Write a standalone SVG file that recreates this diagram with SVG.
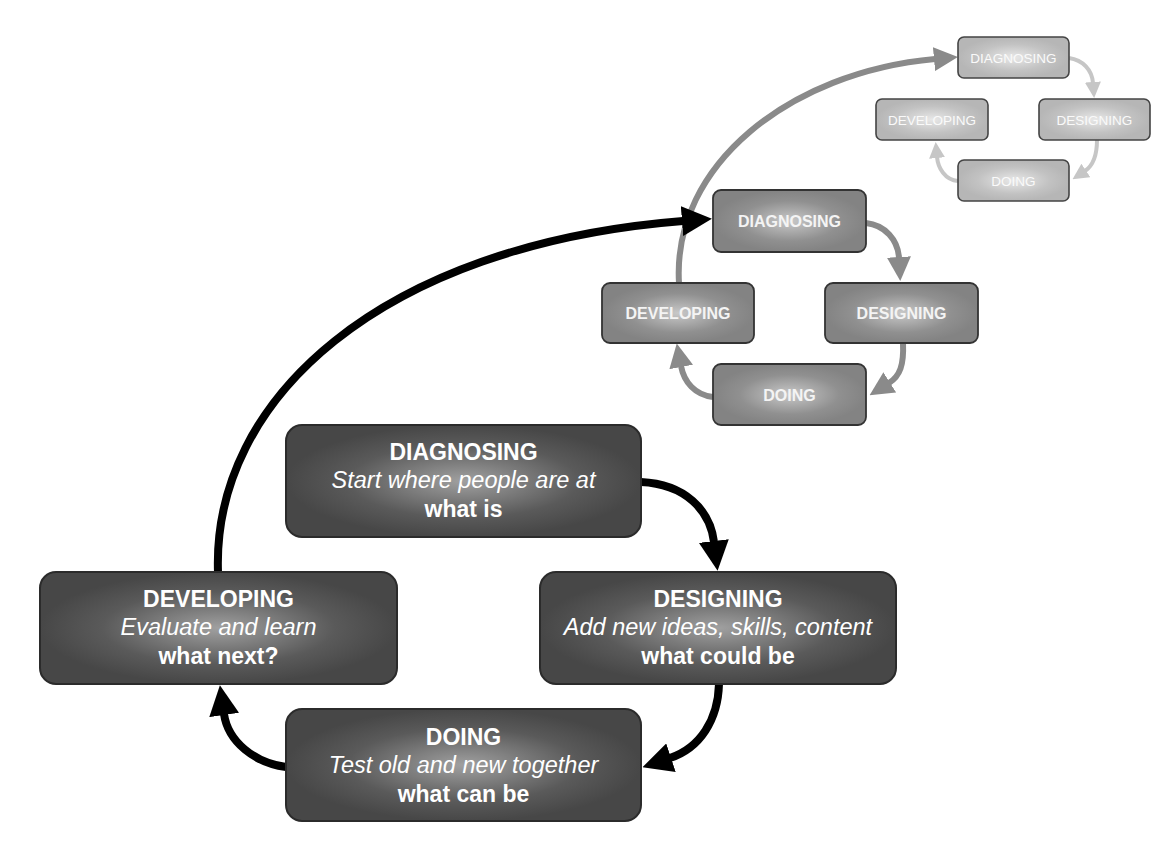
<svg xmlns="http://www.w3.org/2000/svg" width="1174" height="848" viewBox="0 0 1174 848">
  <style>
    .big { stroke: #2b2b2b; stroke-width: 2; fill: url(#gBig); }
    .mid { stroke: #333; stroke-width: 1.8; fill: url(#gMid); }
    .far { stroke: #444; stroke-width: 1.6; fill: url(#gFar); }
    text { font-family: "Liberation Sans", Arial, sans-serif; fill: #fff; text-anchor: middle; }
    .t { font-size: 23px; font-weight: bold; }
    .i { font-size: 23.5px; font-style: italic; }
    .mt { font-size: 16px; font-weight: bold; fill: #f4f4f4; }
    .ft { font-size: 13.5px; fill: #fafafa; }
    .c1 { fill: none; stroke: #000; stroke-width: 8; marker-end: url(#hBlack); }
    .c2 { fill: none; stroke: #8a8a8a; stroke-width: 6; marker-end: url(#hGray); }
    .c3 { fill: none; stroke: #c6c6c6; stroke-width: 4; marker-end: url(#hLight); }
  </style>
  <defs>
    <radialGradient id="gBig" cx="50%" cy="50%" r="50%">
      <stop offset="0" stop-color="#a0a0a0"/>
      <stop offset="0.65" stop-color="#5a5a5a"/>
      <stop offset="1" stop-color="#474747"/>
    </radialGradient>
    <radialGradient id="gMid" cx="50%" cy="50%" r="50%">
      <stop offset="0" stop-color="#c8c8c8"/>
      <stop offset="0.65" stop-color="#909090"/>
      <stop offset="1" stop-color="#838383"/>
    </radialGradient>
    <radialGradient id="gFar" cx="50%" cy="50%" r="50%">
      <stop offset="0" stop-color="#e8e8e8"/>
      <stop offset="0.65" stop-color="#c2c2c2"/>
      <stop offset="1" stop-color="#b6b6b6"/>
    </radialGradient>
    <marker id="hBlack" viewBox="0 0 30 30" refX="1" refY="15" markerWidth="30" markerHeight="30" markerUnits="userSpaceOnUse" orient="auto">
      <path d="M0,0 L30,15 L0,30 Z" fill="#000"/>
    </marker>
    <marker id="hGray" viewBox="0 0 24 24" refX="1" refY="12" markerWidth="24" markerHeight="24" markerUnits="userSpaceOnUse" orient="auto">
      <path d="M0,0 L24,12 L0,24 Z" fill="#8a8a8a"/>
    </marker>
    <marker id="hLight" viewBox="0 0 16 16" refX="1" refY="8" markerWidth="16" markerHeight="16" markerUnits="userSpaceOnUse" orient="auto">
      <path d="M0,0 L16,8 L0,16 Z" fill="#c6c6c6"/>
    </marker>
  </defs>

  <rect width="1174" height="848" fill="#fff"/>

  <!-- connectors -->
  <g id="connectors">
    <!-- outer (faint) cycle -->
    <path class="c3" d="M1069,58 C1083,60 1092,70 1093,83"/>
    <path class="c3" d="M1097,140 C1097,155 1094,165 1085,171"/>
    <path class="c3" d="M958,181 C945,180 938,168 937,157"/>
    <!-- middle cycle -->
    <path class="c2" d="M679,283 C672,165 790,72 935,59"/>
    <path class="c2" d="M866,223 C885,225 898,240 899,258"/>
    <path class="c2" d="M903,343 C904,365 900,376 889,383"/>
    <path class="c2" d="M713,397 C695,395 684,382 681,366"/>
    <!-- main cycle -->
    <path class="c1" d="M218,572 C212,400 380,245 683,221"/>
    <path class="c1" d="M641,482 C685,484 710,510 714,542"/>
    <path class="c1" d="M719,684 C718,720 700,748 670,758"/>
    <path class="c1" d="M286,767 C255,763 228,742 224,714"/>
  </g>

  <!-- faint cycle nodes -->
  <g id="far-diagnosing">
    <rect class="far" x="958" y="37" width="111" height="41" rx="6"/>
    <text class="ft" x="1013.5" y="62.5">DIAGNOSING</text>
  </g>
  <g id="far-designing">
    <rect class="far" x="1039" y="99" width="111" height="41" rx="6"/>
    <text class="ft" x="1094.5" y="124.5">DESIGNING</text>
  </g>
  <g id="far-doing">
    <rect class="far" x="958" y="160" width="111" height="41" rx="6"/>
    <text class="ft" x="1013.5" y="185.5">DOING</text>
  </g>
  <g id="far-developing">
    <rect class="far" x="876" y="99" width="112" height="41" rx="6"/>
    <text class="ft" x="932" y="124.5">DEVELOPING</text>
  </g>

  <!-- middle cycle nodes -->
  <g id="mid-diagnosing">
    <rect class="mid" x="713" y="190" width="153" height="62" rx="8"/>
    <text class="mt" x="789.5" y="227">DIAGNOSING</text>
  </g>
  <g id="mid-designing">
    <rect class="mid" x="825" y="283" width="153" height="60" rx="8"/>
    <text class="mt" x="901.5" y="319">DESIGNING</text>
  </g>
  <g id="mid-doing">
    <rect class="mid" x="713" y="364" width="153" height="61" rx="8"/>
    <text class="mt" x="789.5" y="400.5">DOING</text>
  </g>
  <g id="mid-developing">
    <rect class="mid" x="602" y="283" width="152" height="60" rx="8"/>
    <text class="mt" x="678" y="319">DEVELOPING</text>
  </g>

  <!-- main cycle nodes -->
  <g id="diagnosing">
    <rect class="big" x="286" y="425" width="355" height="112" rx="16"/>
    <text class="t" x="463.5" y="460">DIAGNOSING</text>
    <text class="i" x="463.5" y="488">Start where people are at</text>
    <text class="t" x="463.5" y="517">what is</text>
  </g>
  <g id="designing">
    <rect class="big" x="540" y="572" width="356" height="112" rx="16"/>
    <text class="t" x="718" y="607">DESIGNING</text>
    <text class="i" x="718" y="635">Add new ideas, skills, content</text>
    <text class="t" x="718" y="664">what could be</text>
  </g>
  <g id="doing">
    <rect class="big" x="286" y="709" width="355" height="112" rx="16"/>
    <text class="t" x="463.5" y="745">DOING</text>
    <text class="i" x="463.5" y="773">Test old and new together</text>
    <text class="t" x="463.5" y="802">what can be</text>
  </g>
  <g id="developing">
    <rect class="big" x="40" y="572" width="357" height="112" rx="16"/>
    <text class="t" x="218.5" y="607">DEVELOPING</text>
    <text class="i" x="218.5" y="635">Evaluate and learn</text>
    <text class="t" x="218.5" y="664">what next?</text>
  </g>
</svg>
